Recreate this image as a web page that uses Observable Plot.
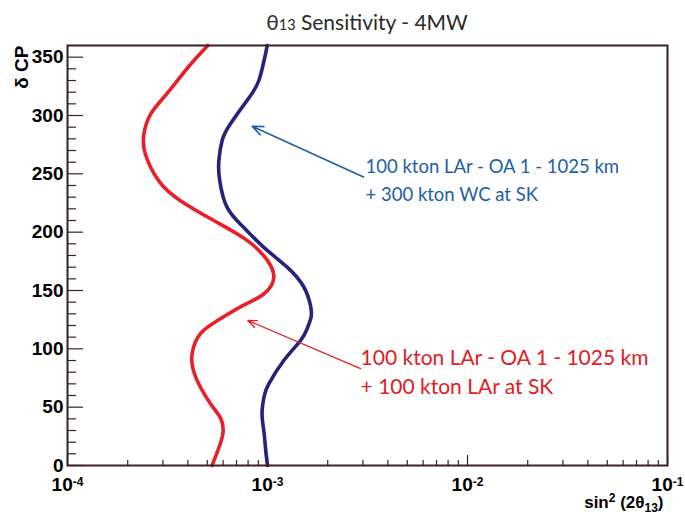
<!DOCTYPE html>
<html>
<head>
<meta charset="utf-8">
<script src="https://cdn.jsdelivr.net/npm/d3@7"></script>
<script src="https://cdn.jsdelivr.net/npm/@observablehq/plot@0.6"></script>
<style>
  html, body { margin: 0; padding: 0; background: white; }
  #title { width: 685px; height: 36px; box-sizing: border-box; padding-left: 49px; padding-top: 10px;
           text-align: center; font-family: Lato, "Open Sans", sans-serif; font-size: 21px; color: #2a2a2a; line-height: 24px; }
  #title .small { font-size: 14.5px; }
  #chart svg [aria-label="y-axis tick label"] text,
  #chart svg [aria-label="x-axis tick label"] text { font-weight: bold; }
</style>
</head>
<body>
<div id="title">θ<span class="small">13</span> Sensitivity - 4MW</div>
<div id="chart"></div>
<script>
// δCP (degrees) and sin²(2θ13) sensitivity
const deltaRed = [0, 13, 27, 40, 53, 76, 96, 113, 124, 136, 147, 161, 176, 193, 210, 227, 244, 267, 284, 301, 319, 342, 360];
const sin2Red  = [5.28e-4, 5.65e-4, 5.98e-4, 5.85e-4, 5.19e-4, 4.37e-4, 4.20e-4, 4.62e-4, 5.60e-4, 7.33e-4, 9.58e-4, 1.075e-3, 9.97e-4, 7.91e-4, 5.39e-4, 3.67e-4, 2.86e-4, 2.45e-4, 2.41e-4, 2.60e-4, 3.15e-4, 4.04e-4, 5.03e-4];

const deltaBlue = [0, 15, 30, 45, 60, 70, 90, 107, 117, 127, 137, 153, 170, 187, 204, 221, 244, 261, 279, 293, 313, 330, 360];
const sin2Blue  = [1.0e-3, 9.77e-4, 9.58e-4, 9.39e-4, 9.64e-4, 1.015e-3, 1.206e-3, 1.462e-3, 1.576e-3, 1.650e-3, 1.641e-3, 1.519e-3, 1.254e-3, 9.58e-4, 7.61e-4, 6.29e-4, 5.77e-4, 5.71e-4, 5.94e-4, 6.53e-4, 7.91e-4, 9.05e-4, 9.97e-4];

// axis ticks
const yMajor = [0, 50, 100, 150, 200, 250, 300, 350];
const yMinor = [10, 20, 30, 40, 60, 70, 80, 90, 110, 120, 130, 140, 160, 170, 180, 190, 210, 220, 230, 240, 260, 270, 280, 290, 310, 320, 330, 340];
const xMajor = [1e-4, 1e-3, 1e-2, 1e-1];
const xMajorExp = ["-4", "-3", "-2", "-1"];
const xMinor = [2e-4, 3e-4, 4e-4, 5e-4, 6e-4, 7e-4, 8e-4, 9e-4,
                2e-3, 3e-3, 4e-3, 5e-3, 6e-3, 7e-3, 8e-3, 9e-3,
                2e-2, 3e-2, 4e-2, 5e-2, 6e-2, 7e-2, 8e-2, 9e-2];

// annotations
const blueNote = ["100 kton LAr - OA 1 - 1025 km", "+ 300 kton WC at SK"];
const redNote  = ["100 kton LAr - OA 1 - 1025 km", "+ 100 kton LAr at SK"];
const blueNoteX = 3.09e-3, blueNoteY = [255.7, 231.4];
const redNoteX = 2.92e-3, redNoteY = [91.7, 67.1];
const blueArrow = {x1: 3.02e-3, y1: 247.3, x2: 8.38e-4, y2: 290.8};
const redArrow  = {x1: 2.92e-3, y1: 83.1, x2: 7.97e-4, y2: 124.3};

const frameColor = "#3d1e24";
const redColor = "#e8202a";
const blueColor = "#24247c";
const noteBlue = "#1d5ea6";
const noteRed = "#e0201f";

const red = deltaRed.map((d, i) => ({delta: d, s: sin2Red[i]}));
const blue = deltaBlue.map((d, i) => ({delta: d, s: sin2Blue[i]}));

const W = 685, H = 485, mL = 67, mR = 18, mT = 9, mB = 56;
const fw = W - mL - mR, fh = H - mT - mB;

const chart = Plot.plot({
  width: W, height: H,
  marginLeft: mL, marginRight: mR, marginTop: mT, marginBottom: mB,
  x: {type: "log", domain: [1e-4, 1e-1]},
  y: {domain: [0, 360]},
  style: {fontFamily: "'Liberation Sans', Arial, sans-serif", background: "white", color: "black"},
  marks: [
    Plot.ruleY(yMinor, {stroke: frameColor, strokeWidth: 1.2, insetRight: fw - 9}),
    Plot.ruleY(yMajor, {stroke: frameColor, strokeWidth: 1.2, insetRight: fw - 16}),
    Plot.ruleX(xMinor, {stroke: frameColor, strokeWidth: 1.2, insetTop: fh - 5}),
    Plot.ruleX(xMajor, {stroke: frameColor, strokeWidth: 1.2, insetTop: fh - 10}),
    Plot.axisY({ticks: yMajor, tickSize: 0, tickPadding: 4, fontSize: 19, label: null, tickFormat: d => String(d)}),
    Plot.axisX({ticks: xMajor, tickSize: 0, tickPadding: 12, fontSize: 19, label: null,
                tickFormat: d => "10^" + xMajorExp[xMajor.findIndex(v => Math.abs(v - d) / d < 1e-6)]}),
    Plot.line(red, {x: "s", y: "delta", stroke: redColor, strokeWidth: 3.6, curve: "natural"}),
    Plot.line(blue, {x: "s", y: "delta", stroke: blueColor, strokeWidth: 3.6, curve: "natural"}),
    Plot.arrow([blueArrow], {x1: "x1", y1: "y1", x2: "x2", y2: "y2", stroke: noteBlue, strokeWidth: 1.6, headLength: 11, headAngle: 45}),
    Plot.arrow([redArrow], {x1: "x1", y1: "y1", x2: "x2", y2: "y2", stroke: noteRed, strokeWidth: 1.3, headLength: 11, headAngle: 45}),
    Plot.text(blueNote, {x: () => blueNoteX, y: (d, i) => blueNoteY[i], text: d => d, textAnchor: "start",
                         fill: noteBlue, fontSize: 18.5, fontFamily: "Lato, 'Open Sans', sans-serif"}),
    Plot.text(redNote, {x: () => redNoteX, y: (d, i) => redNoteY[i], text: d => d, textAnchor: "start",
                        fill: noteRed, fontSize: 21, fontFamily: "Lato, 'Open Sans', sans-serif"}),
    Plot.frame({stroke: frameColor, strokeWidth: 2}),
    Plot.text(["δ CP"], {frameAnchor: "top-left", dx: -53, dy: 0, rotate: -90, textAnchor: "end",
                         fontSize: 19, fontWeight: "bold", fill: "black"}),
    Plot.text(["sin2 (2θ13)"], {frameAnchor: "bottom-right", dx: -4, dy: 42, textAnchor: "end",
                                 fontSize: 17, fontWeight: "bold", fill: "black"})
  ]
});
document.getElementById("chart").appendChild(chart);

// typographic post-processing: superscripts / subscripts as tspans
const NS = "http://www.w3.org/2000/svg";
function setParts(textEl, parts) {
  while (textEl.firstChild) textEl.removeChild(textEl.firstChild);
  for (const p of parts) {
    const t = document.createElementNS(NS, "tspan");
    t.textContent = p.t;
    if (p.dy) t.setAttribute("dy", p.dy);
    if (p.size) t.setAttribute("font-size", p.size);
    textEl.appendChild(t);
  }
}
chart.querySelectorAll('[aria-label="x-axis tick label"] text').forEach(el => {
  const [base, exp] = el.textContent.split("^");
  setParts(el, [{t: base}, {t: exp, dy: "-0.45em", size: 12}]);
});
chart.querySelectorAll("text").forEach(el => {
  if (el.textContent === "sin2 (2θ13)") {
    setParts(el, [{t: "sin"}, {t: "2", dy: -6, size: 12}, {t: " (2θ", dy: 6},
                  {t: "13", dy: 4, size: 12}, {t: ")", dy: -4}]);
  }
});
</script>
</body>
</html>
